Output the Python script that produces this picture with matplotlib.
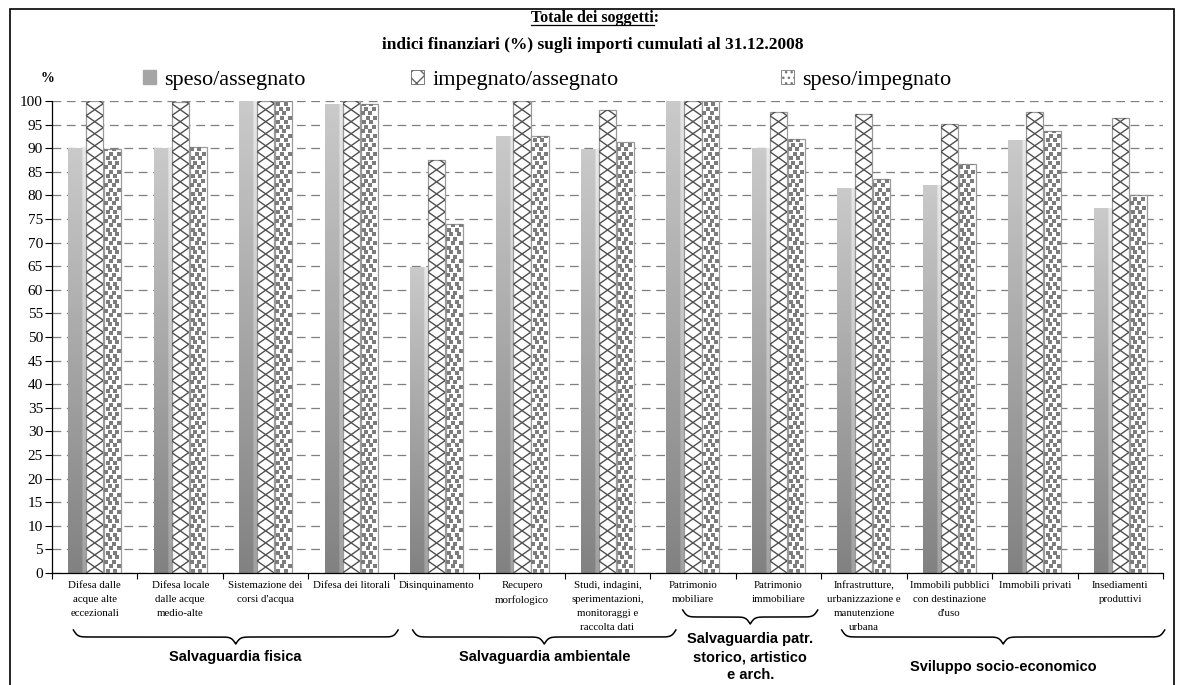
import numpy as np
import matplotlib
matplotlib.use("Agg")
import matplotlib.pyplot as plt
from matplotlib.patches import Rectangle, Patch
from matplotlib.collections import LineCollection
import matplotlib.transforms as mtransforms

# data
categories = [
    "Difesa dalle\nacque alte\neccezionali",
    "Difesa locale\ndalle acque\nmedio-alte",
    "Sistemazione dei\ncorsi d'acqua",
    "Difesa dei litorali",
    "Disinquinamento",
    "Recupero\nmorfologico",
    "Studi, indagini,\nsperimentazioni,\nmonitoraggi e\nraccolta dati",
    "Patrimonio\nmobiliare",
    "Patrimonio\nimmobiliare",
    "Infrastrutture,\nurbanizzazione e\nmanutenzione\nurbana",
    "Immobili pubblici\ncon destinazione\nd'uso",
    "Immobili privati",
    "Insediamenti\nproduttivi",
]
speso_assegnato = [90.0, 90.0, 100.0, 99.3, 64.9, 92.5, 89.9, 100.0, 90.0, 81.6, 82.3, 91.8, 77.3]
impegnato_assegnato = [100.0, 99.8, 100.0, 100.0, 87.4, 100.0, 98.0, 100.0, 97.6, 97.2, 95.1, 97.6, 96.4]
speso_impegnato = [89.9, 90.3, 100.0, 99.3, 74.0, 92.5, 91.4, 100.0, 91.9, 83.5, 86.6, 93.6, 80.0]
series_names = ["speso/assegnato", "impegnato/assegnato", "speso/impegnato"]

groups = ["Salvaguardia fisica", "Salvaguardia ambientale",
          "Salvaguardia patr.\nstorico, artistico\ne arch.", "Sviluppo socio-economico"]
brace_spans = [(-0.25, 3.55), (3.72, 6.8), (6.88, 8.46), (8.74, 12.52)]

serif = "Liberation Serif"
sans = "Liberation Sans"

fig = plt.figure(figsize=(11.82, 6.85), dpi=100)
ax = fig.add_axes([52 / 1182, 112 / 685, 1111 / 1182, 472 / 685])

n = len(categories)
x = np.arange(n)
bw = 0.2
step = 0.21

ax.set_xlim(-0.5, n - 0.5)
ax.set_ylim(0, 100)
ax.set_yticks(np.arange(0, 101, 5))
ax.set_xticks(np.arange(n + 1) - 0.5)
ax.set_xticklabels([])
ax.tick_params(axis="y", direction="out", length=5, width=0.8, labelsize=11, pad=1.5)
ax.tick_params(axis="x", direction="out", length=4, width=0.8)
for lbl in ax.get_yticklabels():
    lbl.set_fontfamily(serif)
for s in ["top", "right"]:
    ax.spines[s].set_visible(False)
ax.spines["left"].set_linewidth(0.9)
ax.spines["bottom"].set_linewidth(0.9)
ax.set_axisbelow(True)
ax.grid(axis="y", color="#7f7f7f", linewidth=0.9, linestyle=(0, (7, 4.5)))

# speso/assegnato: gray gradient bars
grad = np.linspace(0.51, 0.79, 64)[:, None] * np.ones((64, 20))
grad[:, 16:] += 0.12
for xi, v in zip(x - step, speso_assegnato):
    rect = Rectangle((xi - bw / 2, 0), bw, v, facecolor="none", edgecolor="none")
    ax.add_patch(rect)
    im = ax.imshow(grad, cmap="gray", vmin=0, vmax=1, origin="lower", aspect="auto",
                   extent=[xi - bw / 2, xi + bw / 2, 0, v], zorder=2, interpolation="bilinear")
    im.set_clip_path(rect)

# impegnato/assegnato: cross hatched bars
period = 2.55
for xi, v in zip(x, impegnato_assegnato):
    rect = Rectangle((xi - bw / 2, 0), bw, v, facecolor="white", edgecolor="#9a9a9a",
                     linewidth=0.9, zorder=2)
    ax.add_patch(rect)
    x0, x1 = xi - bw / 2, xi + bw / 2
    segs = []
    for k in range(-1, int(v / period) + 2):
        segs.append([(x0, k * period), (x1, (k + 1) * period)])
        segs.append([(x0, (k + 1) * period), (x1, k * period)])
    lc = LineCollection(segs, colors="#505050", linewidths=1.0, zorder=3)
    ax.add_collection(lc)
    lc.set_clip_path(rect)

# speso/impegnato: dotted bars (staggered small squares)
row = 0.95
offsets = [[0.2, 0.62], [0.42, 0.85], [0.12, 0.55], [0.32, 0.78]]
for xi, v in zip(x + step, speso_impegnato):
    rect = Rectangle((xi - bw / 2, 0), bw, v, facecolor="white", edgecolor="#9a9a9a",
                     linewidth=0.9, zorder=2)
    ax.add_patch(rect)
    px, py = [], []
    for r in range(int(v / row) + 1):
        for f in offsets[r % 4]:
            px.append(xi - bw / 2 + f * bw)
            py.append(r * row + row / 2)
    sc = ax.scatter(px, py, s=6, marker="s", color="#7c7c7c", linewidths=0, zorder=3)
    sc.set_clip_path(rect)

# category labels
lab_tr = mtransforms.blended_transform_factory(ax.transData, ax.transAxes)
for xi, c in zip(x, categories):
    ax.text(xi, -0.017, c, transform=lab_tr, ha="center", va="top", fontsize=7.8,
            fontfamily=serif, linespacing=1.7)

# curly braces under the groups
def draw_brace(x0, x1, y_plateau, h):
    t = np.linspace(0, 0.5, 300)
    width_px = (x1 - x0) * 1111 / n
    beta = width_px / 2.2
    yh = 1 / (1 + np.exp(-beta * (t - t[0]))) + 1 / (1 + np.exp(-beta * (t - t[-1])))
    yy = np.concatenate((yh, yh[-2::-1]))
    tt = np.concatenate((t, t[-2::-1] * -1 + 1))
    xs = x0 + tt * (x1 - x0)
    ys = y_plateau - (yy - 1) * h
    ax.plot(xs, ys, color="black", linewidth=1.1, transform=lab_tr, clip_on=False)

brace_y = [637, 637, 617, 637]
label_y = [657, 657, 657, 667]
for (b0, b1), g, by, ly in zip(brace_spans, groups, brace_y, label_y):
    draw_brace(b0, b1, (573 - by) / 472, 14 / 472)
    ax.text((b0 + b1) / 2, (573 - ly) / 472, g, transform=lab_tr, ha="center", va="center",
            fontsize=10.5, fontweight="bold", fontfamily=sans, linespacing=1.35)

# title
t1 = fig.text(595 / 1182, 1 - 18 / 685, "Totale dei soggetti:", ha="center", va="center",
              fontsize=11.5, fontweight="bold", fontfamily=serif)
fig.text(593 / 1182, 1 - 45 / 685, "indici finanziari (%) sugli importi cumulati al 31.12.2008",
         ha="center", va="center", fontsize=12.5, fontweight="bold", fontfamily=serif)
renderer = fig.canvas.get_renderer()
bb = t1.get_window_extent(renderer)
tmp = fig.text(0, 0, ":", fontsize=11.5, fontweight="bold", fontfamily=serif)
cw = tmp.get_window_extent(renderer).width
tmp.remove()
fig.add_artist(plt.Line2D([bb.x0 / 1182, (bb.x1 - cw) / 1182], [(bb.y0 + 1.5) / 685] * 2,
                          color="black", linewidth=0.9, transform=fig.transFigure))

fig.text(47 / 1182, 1 - 78 / 685, "%", ha="center", va="center", fontsize=10,
         fontweight="bold", fontfamily=serif)

# legend, one entry per column position
handles = [Patch(facecolor="#a5a5a5", edgecolor="#a5a5a5"),
           Patch(facecolor="white", edgecolor="#666666", hatch="xx", linewidth=0.6),
           Patch(facecolor="white", edgecolor="#777777", hatch="...", linewidth=0.6)]
for h, name, lx in zip(handles, series_names, [143, 411, 781]):
    leg = fig.legend([h], [name], loc="center left", bbox_to_anchor=(lx / 1182, 1 - 80 / 685),
                     frameon=False, borderpad=0, borderaxespad=0, handlelength=0.6,
                     handleheight=0.6, handletextpad=0.35, prop={"family": serif, "size": 16})

# outer frame
fig.add_artist(Rectangle((10 / 1182, -0.02), 1164 / 1182, 1.02 - 9 / 685, fill=False,
                         edgecolor="black", linewidth=1.2, transform=fig.transFigure))

fig.savefig("out.png", dpi=100)
